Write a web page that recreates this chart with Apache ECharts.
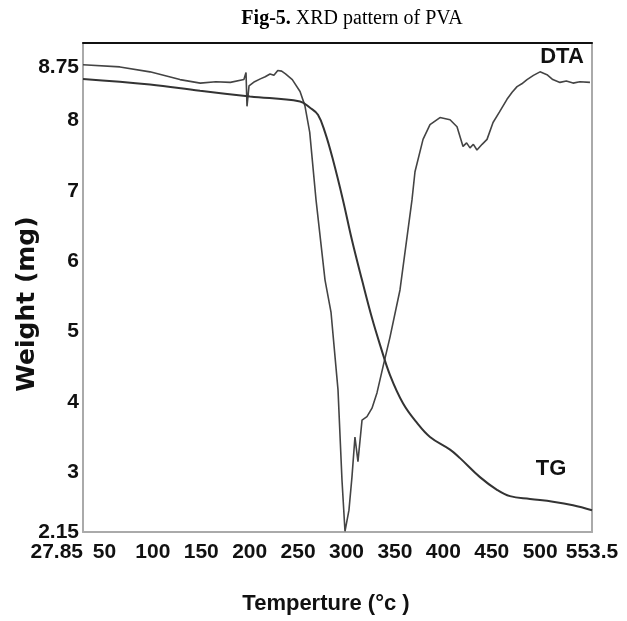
<!DOCTYPE html>
<html>
<head>
<meta charset="utf-8">
<script src="https://cdn.jsdelivr.net/npm/echarts@6/dist/echarts.min.js"></script>
<style>
html,body{margin:0;padding:0;background:#fff;}
#c{width:627px;height:621px;}
</style>
</head>
<body>
<div id="c"></div>
<script>
// Tick labels
const xTicks = [27.85, 50, 100, 150, 200, 250, 300, 350, 400, 450, 500, 553.5];
const yTicks = [2.15, 3, 4, 5, 6, 7, 8, 8.75];

// DTA curve (temperature °C, value on Weight axis)
const dtaTemp = [27.85, 66, 97, 128, 149, 165, 180, 194, 196.2, 197.2, 199.3, 205, 211, 216, 221, 225, 229, 233, 237, 244, 252, 257, 262, 268.5, 277.8, 284, 291.2, 295.3, 298.4, 302.5, 305.6, 308.7, 311.8, 316, 321.1, 326.3, 331.5, 337.7, 344.9, 355.2, 367.6, 370.7, 379, 386.2, 396.5, 406.9, 414.1, 420.3, 424, 427.5, 431, 434.7, 440, 445.1, 451.3, 458, 465.7, 471, 476.1, 481, 486.4, 493, 499.8, 507, 513, 520.4, 527, 533.9, 541, 551.4];
const dtaWeight = [8.79, 8.76, 8.69, 8.58, 8.53, 8.55, 8.54, 8.58, 8.68, 8.20, 8.49, 8.55, 8.59, 8.62, 8.66, 8.64, 8.71, 8.70, 8.66, 8.58, 8.41, 8.21, 7.83, 6.87, 5.73, 5.27, 4.17, 2.89, 2.16, 2.46, 2.93, 3.50, 3.15, 3.74, 3.79, 3.91, 4.13, 4.50, 4.92, 5.59, 6.87, 7.27, 7.73, 7.94, 8.04, 8.01, 7.91, 7.63, 7.68, 7.61, 7.66, 7.58, 7.66, 7.73, 7.97, 8.12, 8.30, 8.40, 8.48, 8.52, 8.58, 8.64, 8.69, 8.65, 8.58, 8.54, 8.56, 8.53, 8.55, 8.54];

// TG curve
const tgTemp = [27.85, 97, 148.7, 200.3, 252, 262.3, 270.5, 277.8, 286, 296.3, 305.6, 316, 326.3, 334.6, 344.9, 358.3, 372.8, 386.2, 406.9, 417.2, 437.8, 455.4, 468.8, 489.5, 513.2, 533.9, 553.5];
const tgWeight = [8.59, 8.51, 8.42, 8.34, 8.27, 8.18, 8.08, 7.83, 7.44, 6.87, 6.30, 5.73, 5.19, 4.81, 4.38, 3.98, 3.70, 3.50, 3.32, 3.20, 2.93, 2.75, 2.66, 2.62, 2.58, 2.53, 2.46];

const labelFont = "'Liberation Sans', Arial, sans-serif";

const chart = echarts.init(document.getElementById('c'));
chart.setOption({
  animation: false,
  backgroundColor: '#fff',
  title: {
    text: '{b|Fig-5.} {n|XRD pattern of PVA}',
    left: 347, top: 4, textAlign: 'center',
    textStyle: {
      rich: {
        b: {fontFamily: "'Liberation Serif', serif", fontWeight: 'bold', fontSize: 20, color: '#000'},
        n: {fontFamily: "'Liberation Serif', serif", fontWeight: 'normal', fontSize: 20, color: '#000'}
      }
    }
  },
  grid: {left: 83, right: 35, top: 43, bottom: 89},
  xAxis: [{
    type: 'value', min: 27.85, max: 553.5, position: 'bottom',
    axisLine: {show: true, lineStyle: {color: '#aaa', width: 2}},
    axisTick: {show: false},
    splitLine: {show: false},
    axisLabel: {
      customValues: xTicks, margin: 10, showMinLabel: true, showMaxLabel: true, hideOverlap: false,
      alignMinLabel: 'right', alignMaxLabel: 'center',
      fontFamily: labelFont, fontWeight: 'bold', fontSize: 21, color: '#111',
      formatter: v => String(v)
    }
  }, {
    type: 'value', min: 27.85, max: 553.5, position: 'top',
    axisLine: {show: true, lineStyle: {color: '#111', width: 2}},
    axisTick: {show: false}, axisLabel: {show: false}, splitLine: {show: false}
  }],
  yAxis: [{
    type: 'value', min: 2.15, max: 9.1, position: 'left',
    axisLine: {show: true, lineStyle: {color: '#aaa', width: 2}},
    axisTick: {show: false},
    splitLine: {show: false},
    axisLabel: {
      customValues: yTicks, margin: 4, showMinLabel: true, showMaxLabel: true,
      fontFamily: labelFont, fontWeight: 'bold', fontSize: 21, color: '#111',
      formatter: v => String(v)
    }
  }, {
    type: 'value', min: 2.15, max: 9.1, position: 'right',
    axisLine: {show: true, lineStyle: {color: '#aaa', width: 2}},
    axisTick: {show: false}, axisLabel: {show: false}, splitLine: {show: false}
  }],
  graphic: [
    {type: 'text', x: 27, y: 304, rotation: Math.PI / 2,
     style: {text: 'Weight (mg)', x: 0, y: 0, align: 'center', verticalAlign: 'middle',
       fontFamily: "'DejaVu Sans', sans-serif", fontWeight: 'bold', fontSize: 25, fill: '#111'}},
    {type: 'text', x: 326, y: 604,
     style: {text: 'Temperture (°c )', align: 'center', verticalAlign: 'middle',
       fontFamily: labelFont, fontWeight: 'bold', fontSize: 22, fill: '#111'}},
    {type: 'text', x: 562, y: 57,
     style: {text: 'DTA', align: 'center', verticalAlign: 'middle',
       fontFamily: labelFont, fontWeight: 'bold', fontSize: 22, fill: '#111'}},
    {type: 'text', x: 551, y: 469,
     style: {text: 'TG', align: 'center', verticalAlign: 'middle',
       fontFamily: labelFont, fontWeight: 'bold', fontSize: 22, fill: '#111'}}
  ],
  series: [{
    name: 'DTA', type: 'line', showSymbol: false, smooth: false,
    data: dtaTemp.map((t, i) => [t, dtaWeight[i]]),
    lineStyle: {color: '#444', width: 1.6}
  }, {
    name: 'TG', type: 'line', showSymbol: false, smooth: 0.4,
    data: tgTemp.map((t, i) => [t, tgWeight[i]]),
    lineStyle: {color: '#333', width: 2}
  }]
});
</script>
</body>
</html>
